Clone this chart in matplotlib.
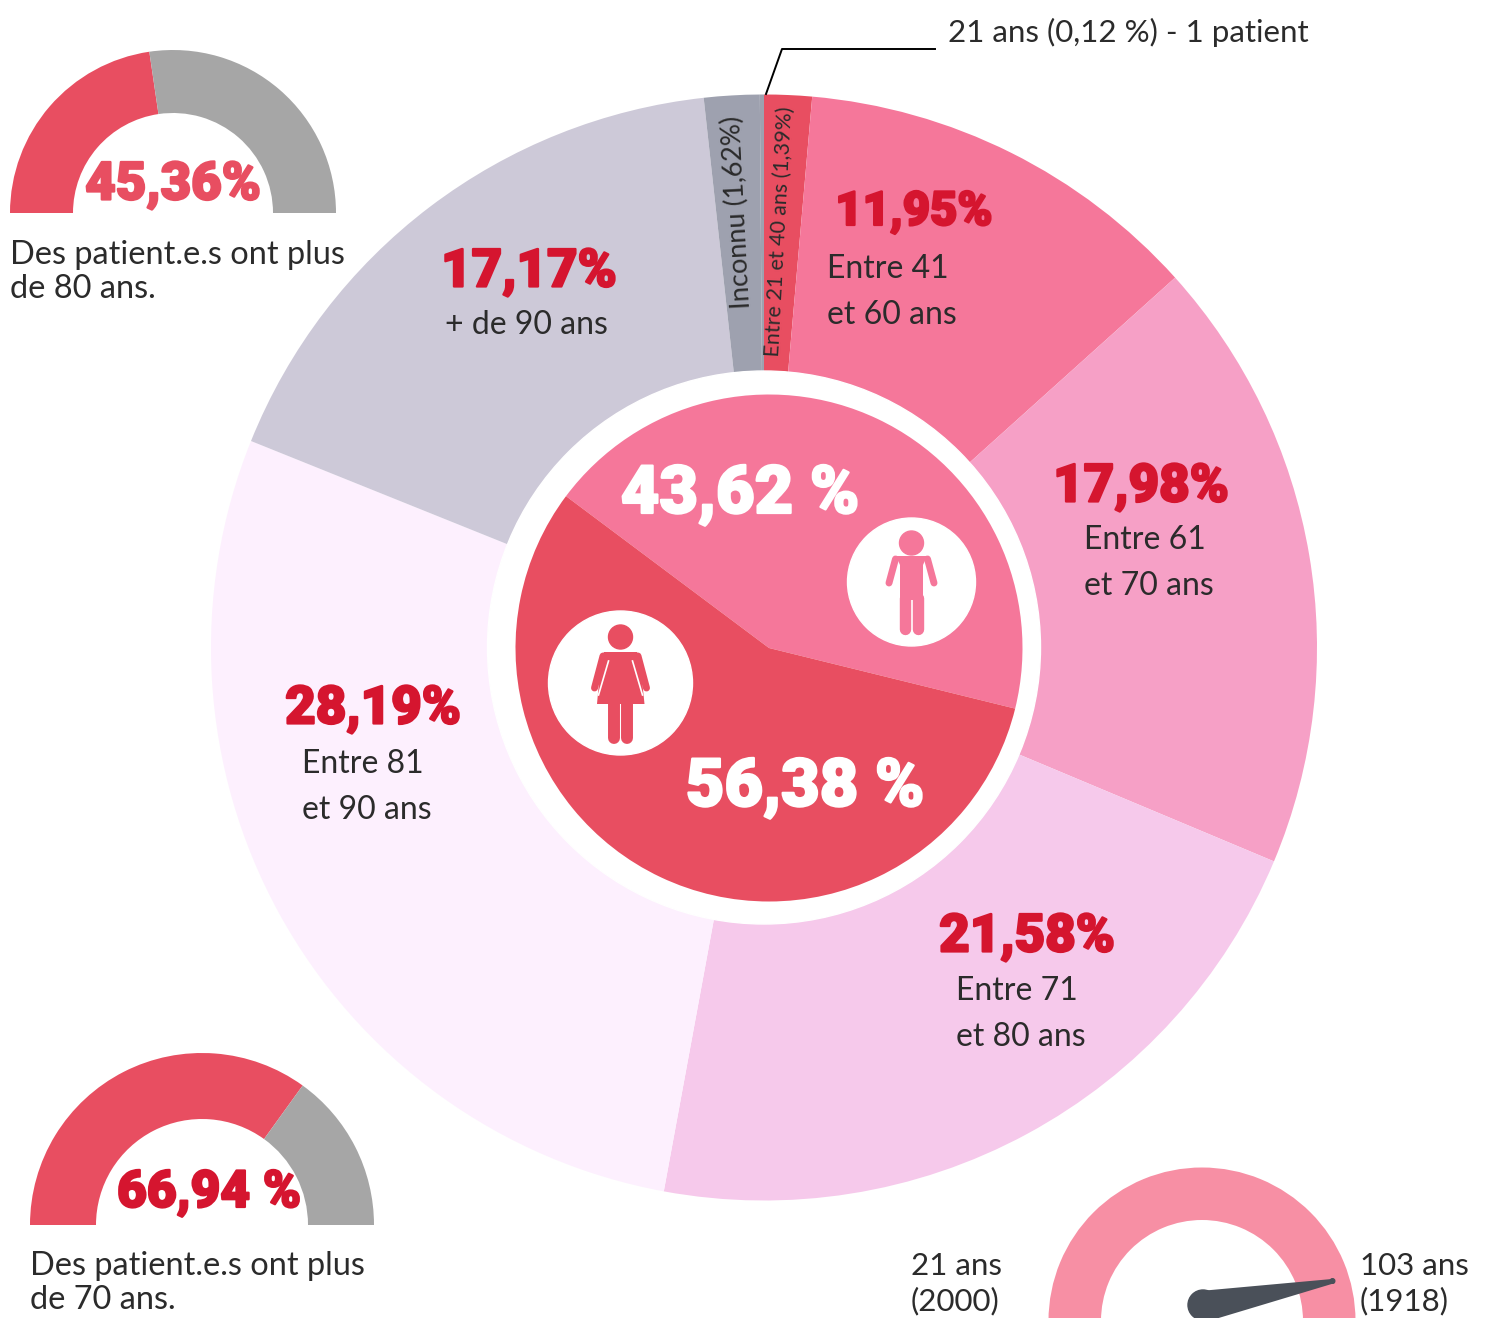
import matplotlib
matplotlib.use('Agg')
import matplotlib.pyplot as plt
import matplotlib.patheffects as pe
from matplotlib.patches import Circle, Polygon

W, H = 1485, 1318

# outer ring, clockwise from the top
age_values = [1.39, 11.95, 17.98, 21.58, 28.19, 17.17, 1.62, 0.12]
age_colors = ['#E84E61', '#F5779A', '#F6A0C6', '#F6C9EB', '#FDF0FE', '#CDC9D8', '#9EA1AF', '#9EA1AF']
age_pct = ['11,95%', '17,98%', '21,58%', '28,19%', '17,17%']
age_lines = ['Entre 41\net 60 ans', 'Entre 61\net 70 ans', 'Entre 71\net 80 ans',
             'Entre 81\net 90 ans', '+ de 90 ans']

# inner pie
sex_values = [43.62, 56.38]
sex_colors = ['#F5779A', '#E84E61']

# gauges
gauge_80 = [45.36, 54.64]
gauge_70 = [69.9, 30.1]

RED = '#E84E61'
DARK_RED = '#D5152F'
INK = '#2B2B2B'
BODY = 'Lato'
NUM = 'Roboto'

fig = plt.figure(figsize=(W / 100, H / 100), dpi=100)
ax = fig.add_axes([0, 0, 1, 1])


def Y(py):
    return H - py


def label(x, py, s, size=22.5, color=INK, ha='left', va='center', **kw):
    kw.setdefault('family', BODY)
    ax.text(x, Y(py), s, fontsize=size, color=color, ha=ha, va=va, **kw)


def number(x, py, s, size=38, color=DARK_RED, zorder=5):
    # extra stroke, the installed Roboto is lighter than the original face
    ax.text(x, Y(py), s, fontsize=size, color=color, ha='center', va='center',
            family=NUM, weight='black', zorder=zorder,
            path_effects=[pe.withStroke(linewidth=1.6, foreground=color)])


def half_gauge(cx, py, r_out, r_in, values, colors):
    # the hidden third slice is the lower half of the circle
    ax.pie(values + [sum(values)], colors=colors + ['none'], startangle=180, counterclock=False,
           center=(cx, Y(py)), radius=r_out, wedgeprops={'width': r_out - r_in})


# main rings
ax.pie(age_values, colors=age_colors, startangle=90, counterclock=False,
       center=(764, Y(647.5)), radius=553, wedgeprops={'linewidth': 0})
ax.add_patch(Circle((764, Y(647.5)), 276.5, color='white', zorder=3))
ax.pie(sex_values, colors=sex_colors, startangle=143.2, counterclock=False,
       center=(769, Y(648)), radius=253.5, wedgeprops={'linewidth': 0, 'zorder': 4})

half_gauge(173, 213, 163, 100, gauge_80, [RED, '#A6A6A6'])
half_gauge(202, 1225, 172, 106, gauge_70, [RED, '#A6A6A6'])
ax.pie([1], colors=['#F78FA4'], center=(1202, Y(1321)), radius=153.5, wedgeprops={'width': 52.5})


# pictograms
def limb(x0, y0, x1, y1, lw, color):
    ax.plot([x0, x1], [Y(y0), Y(y1)], color=color, lw=lw, solid_capstyle='round', zorder=7)


def shape(pts, color):
    ax.add_patch(Polygon([(x, Y(y)) for x, y in pts], color=color, lw=0, zorder=7))


c = '#F5779A'
ax.add_patch(Circle((911.5, Y(582)), 64, color='white', zorder=6))
ax.add_patch(Circle((911.5, Y(543)), 12, color=c, zorder=7))
shape([(896, 556), (927, 556), (923, 565), (923, 600), (911.5, 600), (900, 600), (900, 565)], c)
limb(895.5, 559, 889, 583, 5.0, c)
limb(927.5, 559, 934, 583, 5.0, c)
limb(905.3, 598, 905.3, 629, 8.2, c)
limb(917.7, 598, 917.7, 629, 8.2, c)

c = RED
ax.add_patch(Circle((620.5, Y(683)), 72, color='white', zorder=6))
ax.add_patch(Circle((620.5, Y(637)), 12, color=c, zorder=7))
shape([(604, 652), (637, 652), (640, 660), (644.5, 704), (597, 704), (601, 660)], c)
limb(603, 656, 594.5, 688, 5.0, c)
limb(638, 656, 646.5, 688, 5.0, c)
limb(614.2, 700, 614.2, 738, 8.6, c)
limb(626.8, 700, 626.8, 738, 8.6, c)
# slits between arms and dress
ax.plot([608.5, 598.5], [Y(661), Y(695)], color='white', lw=1.2, zorder=8)
ax.plot([632.5, 642.5], [Y(661), Y(695)], color='white', lw=1.2, zorder=8)

# needle
shape([(1200, 1291), (1332, 1279), (1335, 1283), (1212, 1320), (1195, 1320)], '#4A5059')
ax.add_patch(Circle((1203, Y(1305)), 15, color='#4A5059', zorder=7))
ax.add_patch(Circle((1332.5, Y(1281)), 2.3, color='#4A5059', zorder=7))

# leader line
ax.plot([766, 782, 935], [Y(94), Y(49), Y(49)], color='black', lw=1.4, zorder=8)
label(948, 32, '21 ans (0,12 %) - 1 patient')

# ring labels
num_xy = [(914, 212), (1141, 487), (1027, 937), (373, 709), (529, 272)]
txt_xy = [(827, 292), (1084, 563), (956, 1014), (302, 787), (445, 325)]
for i in range(len(age_pct)):
    size = 34 if i == 0 else 38
    number(num_xy[i][0], num_xy[i][1], age_pct[i], size=size)
    ax.text(txt_xy[i][0], Y(txt_xy[i][1]), age_lines[i], fontsize=23, color=INK, family=BODY,
            ha='left', va='center', linespacing=1.69)

ax.text(737, Y(212), 'Inconnu (1,62%)', fontsize=19.5, color=INK, family=BODY, rotation=93,
        ha='center', va='center', rotation_mode='anchor')
ax.text(779, Y(232), 'Entre 21 et 40 ans (1,39%)', fontsize=15.4, color=INK, family=BODY, rotation=87,
        ha='center', va='center', rotation_mode='anchor', zorder=5)

# center labels
number(740, 495, '43,62 %', size=48, color='white', zorder=8)
number(805, 788, '56,38 %', size=48, color='white', zorder=8)

# gauges text
number(173, 185, '45,36%', color=RED)
label(10, 272, 'Des patient.e.s ont plus\nde 80 ans.', size=23.4, linespacing=1.15)
number(209, 1193, '66,94 %', size=37)
label(30, 1283, 'Des patient.e.s ont plus\nde 70 ans.', size=23.4, linespacing=1.15)
label(911, 1284, '21 ans\n(2000)', linespacing=1.27)
label(1360, 1284, '103 ans\n(1918)', linespacing=1.27)

# pie() resets the limits, so set them last
ax.set_xlim(0, W)
ax.set_ylim(0, H)
ax.set_aspect('equal')
ax.axis('off')
fig.savefig('out.png', dpi=100)
